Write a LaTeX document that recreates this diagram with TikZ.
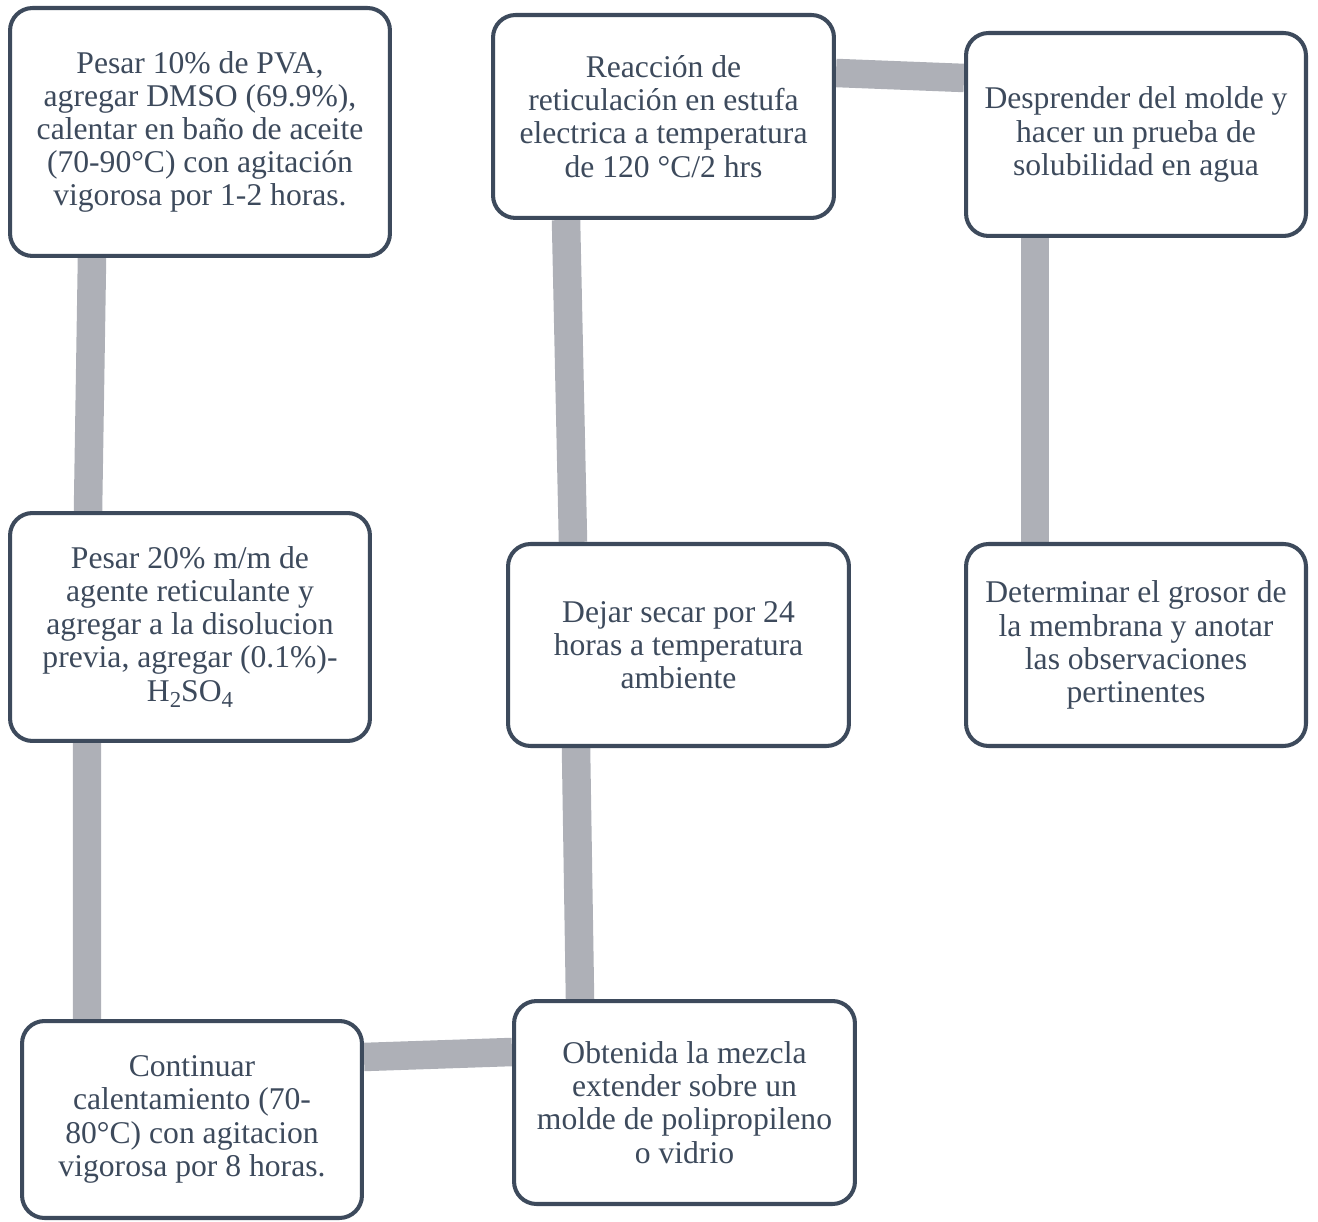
\documentclass[tikz,border=0pt]{standalone}
\usepackage{fontspec}
\setmainfont{Liberation Serif}
\usetikzlibrary{backgrounds}
\definecolor{pizarra}{HTML}{3D4A5C}
\definecolor{grisenlace}{HTML}{AEB0B7}
\newcommand{\subind}[1]{\raisebox{-0.45ex}{\fontsize{13}{13}\selectfont #1}}

\begin{document}
\begin{tikzpicture}[x=0.02cm,y=-0.02cm,font=\fontsize{18}{18.9}\selectfont,
  paso/.style={draw=pizarra,text=pizarra,line width=2.3pt,rounded corners=0.45cm,fill=white,align=center,inner sep=0pt},
  enlace/.style={draw=grisenlace,line width=0.57cm}]
  \useasboundingbox (0,0) rectangle (1318,1222);
  \node[paso,minimum width=7.6cm,minimum height=4.96cm] (pva) at (200,132) {Pesar 10\% de PVA,\\agregar DMSO (69.9\%),\\calentar en baño de aceite\\(70-90°C) con agitación\\vigorosa por 1-2 horas.};
  \node[paso,minimum width=7.2cm,minimum height=4.56cm] (reticulante) at (190,627) {Pesar 20\% m/m de\\agente reticulante y\\agregar a la disolucion\\previa, agregar (0.1\%)-\\H\subind{2}SO\subind{4}};
  \node[paso,minimum width=6.8cm,minimum height=3.94cm] (calentamiento) at (192,1119.5) {Continuar\\calentamiento (70-\\80°C) con agitacion\\vigorosa por 8 horas.};
  \node[paso,minimum width=6.82cm,minimum height=4.06cm] (mezcla) at (684.5,1102.5) {Obtenida la mezcla\\extender sobre un\\molde de polipropileno\\o vidrio};
  \node[paso,minimum width=6.82cm,minimum height=4.04cm] (secado) at (678.5,645) {Dejar secar por 24\\horas a temperatura\\ambiente};
  \node[paso,minimum width=6.82cm,minimum height=4.06cm] (reticulacion) at (663.5,116.5) {Reacción de\\reticulación en estufa\\electrica a temperatura\\de 120 °C/2 hrs};
  \node[paso,minimum width=6.8cm,minimum height=4.06cm] (desprender) at (1136,134.5) {Desprender del molde y\\hacer un prueba de\\solubilidad en agua};
  \node[paso,minimum width=6.8cm,minimum height=4.04cm] (grosor) at (1136,645) {Determinar el grosor de\\la membrana y anotar\\las observaciones\\pertinentes};
  \begin{scope}[on background layer]
    \draw[enlace] ([xshift=1.68cm]pva.south west) -- ([xshift=1.6cm]reticulante.north west);
    \draw[enlace] ([xshift=1.58cm]reticulante.south west) -- ([xshift=1.34cm]calentamiento.north west);
    \draw[enlace] ([yshift=-0.76cm]calentamiento.north east) -- ([yshift=-1.06cm]mezcla.north west);
    \draw[enlace] ([xshift=1.36cm]mezcla.north west) -- ([xshift=1.4cm]secado.south west);
    \draw[enlace] ([xshift=1.34cm]secado.north west) -- ([xshift=1.5cm]reticulacion.south west);
    \draw[enlace] ([yshift=-1.2cm]reticulacion.north east) -- ([yshift=-0.94cm]desprender.north west);
    \draw[enlace] ([xshift=1.42cm]desprender.south west) -- ([xshift=1.42cm]grosor.north west);
  \end{scope}
\end{tikzpicture}
\end{document}
